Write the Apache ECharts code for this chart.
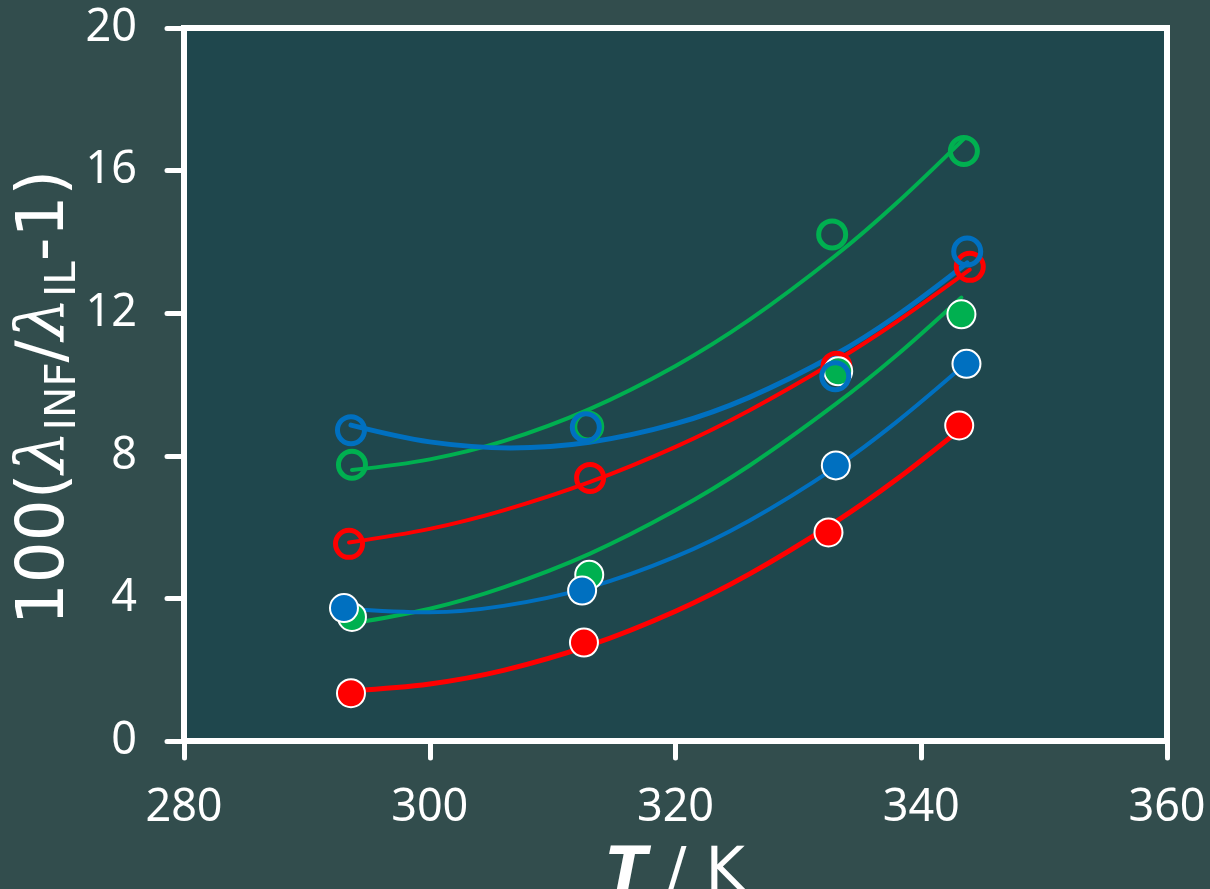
<!DOCTYPE html>
<html>
<head>
<meta charset="utf-8">
<script src="https://cdn.jsdelivr.net/npm/echarts@6/dist/echarts.min.js"></script>
<style>
html,body{margin:0;padding:0;background:#324d4d;}
#chart{width:1210px;height:889px;}
</style>
</head>
<body>
<div id="chart"></div>
<script>
// Measured points (T / K, 100(λINF/λIL-1))
var redFilledT   = [293.59, 312.55, 332.45, 343.09];
var redFilledV   = [1.34, 2.76, 5.85, 8.85];
var greenFilledT = [293.67, 312.98, 333.24, 343.27];
var greenFilledV = [3.48, 4.66, 10.37, 11.97];
var blueFilledT  = [293.02, 312.40, 333.05, 343.68];
var blueFilledV  = [3.73, 4.22, 7.73, 10.58];
var redOpenT     = [293.43, 313.05, 333.10, 343.95];
var redOpenV     = [5.53, 7.38, 10.50, 13.30];
var greenOpenT   = [293.67, 312.90, 332.75, 343.47];
var greenOpenV   = [7.75, 8.82, 14.21, 16.55];
var blueOpenT    = [293.59, 312.70, 333.00, 343.74];
var blueOpenV    = [8.72, 8.80, 10.23, 13.73];

// Trend curves
var redFilledFitT   = [293.59, 300, 306, 313, 320, 326, 333, 338, 343.09];
var redFilledFitV   = [1.41, 1.60, 1.98, 2.68, 3.64, 4.68, 6.14, 7.34, 8.72];
var greenFilledFitT = [293.67, 300, 306, 313, 320, 326, 333, 338, 343.27];
var greenFilledFitV = [3.30, 3.71, 4.31, 5.25, 6.47, 7.72, 9.44, 10.82, 12.44];
var blueFilledFitT  = [293.02, 300, 306, 313, 320, 326, 333, 338, 343.68];
var blueFilledFitV  = [3.72, 3.61, 3.79, 4.31, 5.17, 6.18, 7.67, 8.95, 10.60];
var redOpenFitT     = [293.43, 300, 306, 313, 320, 326, 333, 338, 343.95];
var redOpenFitV     = [5.57, 5.95, 6.47, 7.26, 8.25, 9.27, 10.65, 11.76, 13.22];
var greenOpenFitT   = [293.67, 300, 306, 313, 320, 326, 333, 338, 343.47];
var greenOpenFitV   = [7.60, 7.90, 8.41, 9.31, 10.52, 11.81, 13.61, 15.09, 16.89];
var blueOpenFitT    = [293.59, 300, 306.6, 313, 320, 326, 333, 338, 343.74];
var blueOpenFitV    = [8.86, 8.39, 8.22, 8.38, 8.90, 9.64, 10.84, 11.93, 13.41];

var xTicks = [280, 300, 320, 340, 360];
var yTicks = [0, 4, 8, 12, 16, 20];

var RED = '#ff0000', GREEN = '#00b050', BLUE = '#0070c0';

function pairs(t, v) { return t.map(function (x, i) { return [x, v[i]]; }); }

function fitSeries(t, v, color, width) {
  return {
    type: 'line', data: pairs(t, v), smooth: 0.35, showSymbol: false, symbol: 'none',
    lineStyle: { color: color, width: width, cap: 'round' }, z: 2, silent: true
  };
}
function filledSeries(t, v, color) {
  return {
    type: 'scatter', data: pairs(t, v), symbol: 'circle', symbolSize: 28,
    itemStyle: { color: color, borderColor: '#ffffff', borderWidth: 2, opacity: 1 }, z: 4
  };
}
function openSeries(t, v, color) {
  return {
    type: 'scatter', data: pairs(t, v), symbol: 'circle', symbolSize: 27,
    itemStyle: { color: 'rgba(0,0,0,0)', borderColor: color, borderWidth: 5, opacity: 1 }, z: 4
  };
}

var chart = echarts.init(document.getElementById('chart'), null, { renderer: 'canvas' });
chart.setOption({
  backgroundColor: '#324d4d',
  animation: false,
  grid: {
    left: 184, right: 43, top: 28, bottom: 148,
    containLabel: false, outerBoundsMode: 'none',
    show: true, backgroundColor: '#1f474d', borderColor: '#ffffff', borderWidth: 6
  },
  xAxis: {
    type: 'value', min: xTicks[0], max: xTicks[xTicks.length - 1], interval: 20,
    axisLine: { show: false },
    axisTick: { show: true, inside: false, length: 17, lineStyle: { color: '#ffffff', width: 5, cap: 'round' } },
    splitLine: { show: false },
    axisLabel: { color: '#ffffff', fontFamily: 'Noto Sans', fontSize: 45, margin: 45 },
    name: '{t|T}{n| / K}',
    nameLocation: 'middle', nameGap: 103, nameMoveOverlap: false,
    nameTextStyle: {
      rich: {
        t: { fontFamily: 'DejaVu Sans', fontSize: 60, fontStyle: 'italic', fontWeight: 'bold', color: '#ffffff' },
        n: { fontFamily: 'DejaVu Sans', fontSize: 60, color: '#ffffff' }
      }
    }
  },
  yAxis: {
    type: 'value', min: yTicks[0], max: yTicks[yTicks.length - 1], interval: 4,
    axisLine: { show: false },
    axisTick: { show: true, inside: false, length: 17, lineStyle: { color: '#ffffff', width: 5, cap: 'round' } },
    splitLine: { show: false },
    axisLabel: { color: '#ffffff', fontFamily: 'Noto Sans', fontSize: 45, margin: 47 },
    name: '{n|100(}{l|λ}{s|INF}{n|/}{l|λ}{s|IL}{e|-1)}',
    nameLocation: 'middle', nameRotate: 90, nameGap: 99, nameMoveOverlap: false,
    nameTextStyle: {
      rich: {
        n: { fontFamily: 'DejaVu Sans', fontSize: 66, color: '#ffffff', verticalAlign: 'bottom', padding: [0, 0, 6, 0] },
        e: { fontFamily: 'DejaVu Sans', fontSize: 66, color: '#ffffff', verticalAlign: 'bottom', padding: [0, 26, 6, 0] },
        l: { fontFamily: 'DejaVu Serif', fontSize: 68, fontStyle: 'italic', color: '#ffffff', verticalAlign: 'bottom', padding: [0, 0, 6, 0] },
        s: { fontFamily: 'DejaVu Sans', fontSize: 42, color: '#ffffff', verticalAlign: 'bottom' }
      }
    }
  },
  series: [
    fitSeries(redOpenFitT, redOpenFitV, RED, 4),
    fitSeries(greenOpenFitT, greenOpenFitV, GREEN, 4),
    fitSeries(blueOpenFitT, blueOpenFitV, BLUE, 5),
    fitSeries(greenFilledFitT, greenFilledFitV, GREEN, 4),
    fitSeries(blueFilledFitT, blueFilledFitV, BLUE, 4),
    fitSeries(redFilledFitT, redFilledFitV, RED, 5),
    openSeries(redOpenT, redOpenV, RED),
    openSeries(greenOpenT, greenOpenV, GREEN),
    filledSeries(redFilledT, redFilledV, RED),
    filledSeries(greenFilledT, greenFilledV, GREEN),
    filledSeries(blueFilledT, blueFilledV, BLUE),
    openSeries(blueOpenT, blueOpenV, BLUE)
  ]
});
</script>
</body>
</html>
